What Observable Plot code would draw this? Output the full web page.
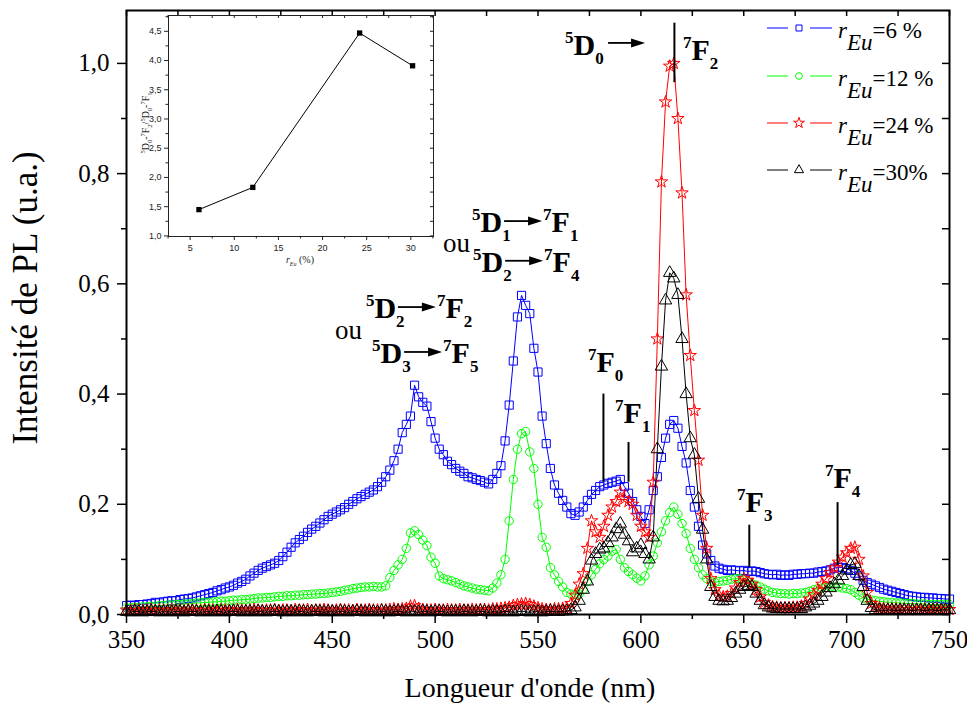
<!DOCTYPE html>
<html><head><meta charset="utf-8">
<script src="https://cdn.jsdelivr.net/npm/d3@7"></script>
<script src="https://cdn.jsdelivr.net/npm/@observablehq/plot@0.6"></script>
<style>
body{margin:0;background:#fff;}
#wrap{position:relative;width:967px;height:707px;}
#inset{position:absolute;left:120px;top:5px;}
#main svg text{font-family:"Liberation Serif","Times New Roman",serif !important;}
</style></head><body><div id="wrap"><div id="main"></div><div id="inset"></div></div>
<script>
// wavelengths (nm), 2 nm sampling
const wavelength = [
350,352,354,356,358,360,362,364,366,368,370,372,374,376,378,380,382,384,386,388,
390,392,394,396,398,400,402,404,406,408,410,412,414,416,418,420,422,424,426,428,
430,432,434,436,438,440,442,444,446,448,450,452,454,456,458,460,462,464,466,468,
470,472,474,476,478,480,482,484,486,488,490,492,494,496,498,500,502,504,506,508,
510,512,514,516,518,520,522,524,526,528,530,532,534,536,538,540,542,544,546,548,
550,552,554,556,558,560,562,564,566,568,570,572,574,576,578,580,582,584,586,588,
590,592,594,596,598,600,602,604,606,608,610,612,614,616,618,620,622,624,626,628,
630,632,634,636,638,640,642,644,646,648,650,652,654,656,658,660,662,664,666,668,
670,672,674,676,678,680,682,684,686,688,690,692,694,696,698,700,702,704,706,708,
710,712,714,716,718,720,722,724,726,728,730,732,734,736,738,740,742,744,746,748,
750];
// r_Eu = 6 %
const pl6 = [
.016,.017,.016,.018,.018,.019,.020,.022,.021,.023,.024,.025,.025,.027,.028,.029,.030,.032,.034,.036,
.038,.040,.043,.045,.048,.050,.053,.057,.060,.064,.070,.075,.080,.084,.087,.090,.093,.098,.105,.113,
.122,.130,.136,.142,.149,.155,.160,.166,.172,.178,.182,.186,.190,.194,.200,.205,.210,.214,.218,.222,
.226,.232,.240,.250,.262,.279,.300,.330,.345,.360,.416,.395,.385,.378,.350,.320,.300,.290,.278,.272,
.265,.260,.256,.250,.248,.245,.243,.240,.237,.245,.256,.270,.315,.380,.460,.540,.579,.561,.546,.483,
.440,.360,.310,.265,.235,.220,.207,.195,.183,.180,.186,.195,.207,.218,.225,.232,.235,.238,.240,.242,
.245,.232,.220,.205,.190,.178,.165,.190,.225,.250,.285,.320,.345,.352,.338,.305,.275,.225,.195,.160,
.126,.110,.098,.088,.084,.082,.080,.081,.080,.079,.080,.078,.079,.078,.076,.074,.073,.072,.073,.071,
.072,.071,.073,.073,.074,.074,.075,.075,.077,.078,.079,.081,.084,.086,.085,.083,.080,.075,.070,.062,
.058,.055,.052,.049,.046,.044,.042,.040,.038,.036,.034,.033,.032,.031,.031,.030,.030,.029,.029,.028,
.028];
// r_Eu = 12 %
const pl12 = [
.012,.012,.013,.013,.014,.014,.015,.015,.016,.016,.017,.017,.018,.018,.019,.019,.020,.021,.021,.022,
.022,.023,.023,.024,.024,.025,.026,.026,.027,.027,.028,.029,.030,.030,.031,.031,.032,.033,.033,.034,
.034,.035,.035,.036,.036,.037,.037,.038,.038,.039,.040,.041,.042,.044,.045,.047,.048,.049,.050,.050,
.051,.050,.050,.052,.067,.080,.090,.100,.120,.148,.152,.145,.135,.125,.104,.093,.070,.065,.063,.061,
.058,.055,.052,.050,.048,.046,.045,.044,.043,.048,.057,.072,.100,.170,.245,.300,.328,.332,.295,.265,
.200,.140,.122,.085,.072,.060,.050,.040,.037,.036,.037,.045,.060,.072,.082,.092,.100,.106,.115,.118,
.100,.085,.078,.072,.066,.061,.070,.090,.106,.130,.150,.170,.185,.195,.182,.165,.147,.120,.100,.085,
.072,.065,.060,.058,.060,.061,.062,.064,.065,.065,.063,.060,.056,.053,.050,.046,.043,.040,.039,.038,
.038,.037,.038,.038,.039,.040,.042,.045,.047,.048,.049,.050,.050,.050,.048,.047,.045,.040,.035,.030,
.028,.026,.025,.024,.023,.022,.022,.021,.021,.020,.020,.020,.019,.019,.019,.018,.018,.018,.018,.018,
.018];
// r_Eu = 24 %
const pl24 = [
.008,.007,.009,.008,.007,.008,.009,.007,.008,.008,.007,.009,.008,.008,.007,.009,.008,.008,.007,.009,
.008,.008,.007,.009,.008,.007,.008,.009,.008,.007,.008,.009,.008,.007,.008,.008,.009,.007,.008,.008,
.007,.009,.008,.008,.009,.007,.008,.008,.009,.008,.007,.008,.009,.008,.008,.007,.009,.008,.008,.009,
.008,.008,.009,.008,.009,.010,.009,.010,.011,.015,.016,.011,.009,.008,.008,.009,.008,.008,.009,.008,
.008,.009,.008,.008,.009,.008,.009,.009,.008,.010,.010,.011,.012,.013,.016,.018,.019,.020,.018,.015,
.012,.010,.009,.009,.010,.010,.011,.012,.020,.035,.055,.074,.120,.170,.150,.140,.160,.180,.195,.205,
.222,.210,.205,.200,.180,.160,.150,.140,.240,.500,.785,.930,.995,1.000,.900,.765,.580,.470,.370,.280,
.180,.120,.065,.045,.035,.032,.033,.038,.048,.058,.065,.062,.055,.045,.032,.022,.017,.014,.013,.012,
.012,.012,.013,.013,.015,.020,.028,.036,.044,.055,.065,.076,.085,.095,.104,.112,.120,.122,.100,.070,
.040,.020,.015,.012,.011,.010,.010,.010,.009,.010,.009,.010,.009,.009,.010,.009,.009,.010,.009,.009,
.009];
// r_Eu = 30 %
const pl30 = [
.005,.004,.006,.005,.004,.005,.006,.005,.004,.005,.005,.004,.006,.005,.004,.005,.006,.005,.004,.005,
.005,.004,.006,.005,.004,.005,.006,.005,.004,.005,.005,.004,.006,.005,.004,.005,.006,.005,.004,.005,
.005,.004,.006,.005,.004,.005,.006,.005,.004,.005,.005,.004,.006,.005,.004,.005,.006,.005,.004,.005,
.005,.004,.006,.005,.004,.005,.006,.005,.004,.005,.005,.004,.006,.005,.004,.005,.006,.005,.004,.005,
.005,.004,.006,.005,.004,.005,.006,.005,.004,.005,.005,.004,.006,.005,.004,.005,.006,.005,.004,.005,
.005,.004,.005,.006,.005,.005,.006,.006,.008,.013,.025,.045,.060,.098,.110,.118,.120,.130,.140,.155,
.165,.145,.133,.113,.120,.126,.110,.100,.140,.300,.450,.570,.620,.610,.580,.500,.400,.320,.290,.210,
.154,.100,.050,.032,.025,.024,.025,.030,.038,.045,.050,.052,.050,.038,.025,.017,.013,.011,.010,.010,
.010,.010,.010,.010,.010,.013,.016,.020,.025,.032,.040,.048,.055,.062,.070,.080,.090,.092,.070,.050,
.025,.012,.008,.008,.007,.008,.008,.007,.008,.008,.008,.007,.008,.008,.007,.008,.008,.007,.008,.008,
.008];

const seriesNames = ["6 %", "12 %", "24 %", "30%"];
const seriesValues = [pl6, pl12, pl24, pl30];
const seriesColors = ["#0000ff", "#00ff00", "#ff0000", "#000000"];
const seriesSymbols = ["square", "circle", "star", "triangle"];
const seriesR = [4.6, 4.2, 3.9, 4.6];

const xMajor = [350,400,450,500,550,600,650,700,750];
const xMinor = [375,425,475,525,575,625,675,725];
const yMajor = [0,0.2,0.4,0.6,0.8,1.0];
const yMinor = [0.1,0.3,0.5,0.7,0.9];

// annotation arrays (data coordinates)
const levelLines = [
  {x:581.8, y1:0.24, y2:0.40}, {x:594, y1:0.24, y2:0.312}, {x:616.3, y1:0.965, y2:1.073},
  {x:652.7, y1:0.085, y2:0.162}, {x:695.6, y1:0.089, y2:0.203}];
const levelLabels = [
  {x:574.5, y:0.439, sub:"0"}, {x:587.7, y:0.347, sub:"1"}, {x:620.7, y:1.005, sub:"2"},
  {x:647, y:0.185, sub:"3"}, {x:689.7, y:0.229, sub:"4"}];
const transitions = [
  {x:466.6, y:0.537, d:"2", f:"2"}, {x:469.6, y:0.4555, d:"3", f:"5"},
  {x:518.2, y:0.693, d:"1", f:"1"}, {x:518.7, y:0.621, d:"2", f:"4"}];
const ouLabels = [{x:451.6, y:0.499}, {x:504.1, y:0.657}];
const d0Label = {x:563.4, y:1.0145};

// inset data
const insetRate = [6, 12.1, 24.2, 30.2];
const insetRatio = [1.45, 1.83, 4.47, 3.91];
const insetXMajor = [5,10,15,20,25,30];
const insetXMinor = [2.5,7.5,12.5,17.5,22.5,27.5,32.5];
const insetYMajor = [1.0,1.5,2.0,2.5,3.0,3.5,4.0,4.5];
const insetYMinor = [1.25,1.75,2.25,2.75,3.25,3.75,4.25,4.75];

const comma = d => d.toFixed(1).replace(".", ",");
const rows = seriesNames.map((n, si) => wavelength.map((w, i) => ({w, v: seriesValues[si][i], s: n})));

const W = 967, H = 707, mL = 126, mR = 18, mT = 10, mB = 93;
const fW = W - mL - mR, fH = H - mT - mB;
const SERIF = "Liberation Serif, Times New Roman, serif";

const dataMarks = [];
rows.forEach((r, si) => {
  dataMarks.push(Plot.line(r, {x: "w", y: "v", stroke: seriesColors[si], strokeWidth: 1}));
  dataMarks.push(Plot.dot(r, {x: "w", y: "v", symbol: seriesSymbols[si], r: seriesR[si], stroke: seriesColors[si], fill: "none", strokeWidth: 1}));
});

const main = Plot.plot({
  width: W, height: H, marginLeft: mL, marginRight: mR, marginTop: mT, marginBottom: mB,
  style: "font-family: 'Liberation Serif', 'Times New Roman', serif; font-size: 25px; color: #000; background: #fff;",
  x: {domain: [350, 750]},
  y: {domain: [0, 1.096]},
  marks: [
    ...dataMarks,
    Plot.ruleX(levelLines, {x: "x", y1: "y1", y2: "y2", stroke: "#000", strokeWidth: 2}),
    Plot.axisX(xMajor, {anchor: "bottom", tickSize: 9, tickPadding: 7, tickFormat: d => d, label: null, fontSize: 25, fontFamily: SERIF, fill: "#000", strokeWidth: 1.5}),
    Plot.axisX(xMinor, {anchor: "bottom", tickSize: 5, tickFormat: () => "", label: null, strokeWidth: 1.5}),
    Plot.tickX(xMajor.concat(xMinor), {x: d => d, insetBottom: fH - 6, strokeWidth: 1.5}),
    Plot.axisY(yMajor, {anchor: "left", tickSize: 9, tickPadding: 8, tickFormat: comma, label: null, fontSize: 25, fontFamily: SERIF, fill: "#000", strokeWidth: 1.5}),
    Plot.axisY(yMinor, {anchor: "left", tickSize: 5, tickFormat: () => "", label: null, strokeWidth: 1.5}),
    Plot.tickY(yMajor.concat(yMinor), {y: d => d, insetLeft: fW - 7, strokeWidth: 1.5}),
    Plot.frame({stroke: "#000", strokeWidth: 2})
  ]
});
document.getElementById("main").appendChild(main);
d3.select(main).selectAll("text").style("font-family", SERIF).style("font-variant", "normal");

const xs = main.scale("x"), ys = main.scale("y");
const svg = d3.select(main);
const g = svg.append("g").attr("font-family", SERIF).attr("text-anchor", "start");

function term(x, y, sup, letter, sub, size) {
  const t = g.append("text").attr("x", x).attr("y", y).attr("font-weight", "bold").attr("font-size", size).attr("fill", "#000").attr("text-anchor", "start");
  const s = Math.round(size * 0.56);
  t.append("tspan").attr("font-size", s).attr("dy", -size * 0.4).text(sup);
  t.append("tspan").attr("dy", size * 0.4).text(letter);
  t.append("tspan").attr("font-size", s).attr("dy", size * 0.3).text(sub);
  return t;
}
function arrow(x1, x2, y) {
  g.append("line").attr("x1", x1).attr("x2", x2 - 10).attr("y1", y).attr("y2", y).attr("stroke", "#000").attr("stroke-width", 1.8);
  g.append("path").attr("d", `M${x2},${y}L${x2 - 14},${y - 4.5}L${x2 - 14},${y + 4.5}Z`).attr("fill", "#000");
}
const FS = 30;
transitions.forEach(t => {
  const x0 = xs.apply(t.x), y0 = ys.apply(t.y);
  term(x0, y0, "5", "D", t.d, FS);
  arrow(x0 + 32, x0 + 70, y0 - 11);
  term(x0 + 71, y0, "7", "F", t.f, FS);
});
ouLabels.forEach(o => {
  g.append("text").attr("x", xs.apply(o.x)).attr("y", ys.apply(o.y)).attr("font-size", 27).text("ou");
});
{
  const x0 = xs.apply(d0Label.x), y0 = ys.apply(d0Label.y);
  term(x0, y0, "5", "D", "0", FS);
  arrow(x0 + 43, x0 + 80, y0 - 12);
}
levelLabels.forEach(l => term(xs.apply(l.x), ys.apply(l.y), "7", "F", l.sub, FS));

// axis titles
g.append("text").attr("x", 530).attr("y", 697).attr("text-anchor", "middle").attr("font-size", 28).text("Longueur d'onde (nm)");
g.append("text").attr("transform", "translate(37,298) rotate(-90)").attr("text-anchor", "middle").attr("font-size", 35).text("Intensité de PL (u.a.)");

// legend
const legY = [28, 76, 123, 170];
seriesNames.forEach((n, i) => {
  const y = legY[i];
  g.append("line").attr("x1", 767).attr("x2", 788).attr("y1", y).attr("y2", y).attr("stroke", seriesColors[i]).attr("stroke-width", 1);
  g.append("line").attr("x1", 810).attr("x2", 832).attr("y1", y).attr("y2", y).attr("stroke", seriesColors[i]).attr("stroke-width", 1);
  const symType = {square: d3.symbolSquare, circle: d3.symbolCircle, star: d3.symbolStar, triangle: d3.symbolTriangle}[seriesSymbols[i]];
  g.append("path").attr("transform", `translate(799,${y})`).attr("d", d3.symbol(symType, Math.PI * 3.4 * 3.4)()).attr("fill", "none").attr("stroke", seriesColors[i]).attr("stroke-width", 1);
  const t = g.append("text").attr("x", 838).attr("y", y + 10).attr("font-size", 23);
  t.append("tspan").attr("font-style", "italic").text("r");
  t.append("tspan").attr("font-style", "italic").attr("dy", 12).text("Eu");
  t.append("tspan").attr("dy", -12).text("=" + n);
});

// inset
const iW = 330, iH = 275, imL = 48, imR = 17, imT = 10, imB = 44;
const ifW = iW - imL - imR, ifH = iH - imT - imB;
const insetRows = insetRate.map((x, i) => ({x, y: insetRatio[i]}));
const inset = Plot.plot({
  width: iW, height: iH, marginLeft: imL, marginRight: imR, marginTop: imT, marginBottom: imB,
  style: "font-family: 'Liberation Sans', Arial, sans-serif; font-size: 9px; color: #222; background: transparent;",
  x: {domain: [2.55, 32.57]},
  y: {domain: [0.99, 4.77]},
  marks: [
    Plot.frame({stroke: "#222", strokeWidth: 1}),
    Plot.axisX(insetXMajor, {anchor: "bottom", tickSize: 4, tickPadding: 4, tickFormat: d => d, label: null, fontSize: 9}),
    Plot.axisX(insetXMinor, {anchor: "bottom", tickSize: 2.5, tickFormat: () => "", label: null}),
    Plot.tickX(insetXMajor.concat(insetXMinor), {x: d => d, insetBottom: ifH - 3, stroke: "#222"}),
    Plot.axisY(insetYMajor, {anchor: "left", tickSize: 4, tickPadding: 3, tickFormat: comma, label: null, fontSize: 9}),
    Plot.axisY(insetYMinor.filter(v => v < 4.77), {anchor: "left", tickSize: 2.5, tickFormat: () => "", label: null}),
    Plot.tickY(insetYMajor.concat(insetYMinor.filter(v => v < 4.77)), {y: d => d, insetLeft: ifW - 3, stroke: "#222"}),
    Plot.line(insetRows, {x: "x", y: "y", stroke: "#000", strokeWidth: 1}),
    Plot.dot(insetRows, {x: "x", y: "y", symbol: "square", r: 3, fill: "#000", stroke: "none"})
  ]
});
document.getElementById("inset").appendChild(inset);
const gi = d3.select(inset).append("g").attr("font-family", SERIF).attr("fill", "#222");
{
  const t = gi.append("text").attr("x", 180).attr("y", 258).attr("text-anchor", "middle").attr("font-size", 10);
  t.append("tspan").attr("font-style", "italic").text("r");
  t.append("tspan").attr("font-style", "italic").attr("font-size", 6).attr("dy", 3).text("Eu");
  t.append("tspan").attr("dy", -3).text(" (%)");
}
{
  const t = gi.append("text").attr("transform", "translate(29,118) rotate(-90)").attr("text-anchor", "middle").attr("font-size", 10);
  const parts = [["5","sup"],["D",""],["0","sub"],["-",""],["7","sup"],["F",""],["2","sub"],["/",""],["5","sup"],["D",""],["0","sub"],["-",""],["7","sup"],["F",""],["1","sub"]];
  let cur = 0;
  parts.forEach(([s, k]) => {
    const target = k === "sup" ? -4 : k === "sub" ? 3 : 0;
    t.append("tspan").attr("dy", target - cur).attr("font-size", k ? 6.5 : 10).text(s);
    cur = target;
  });
}
</script></body></html>
